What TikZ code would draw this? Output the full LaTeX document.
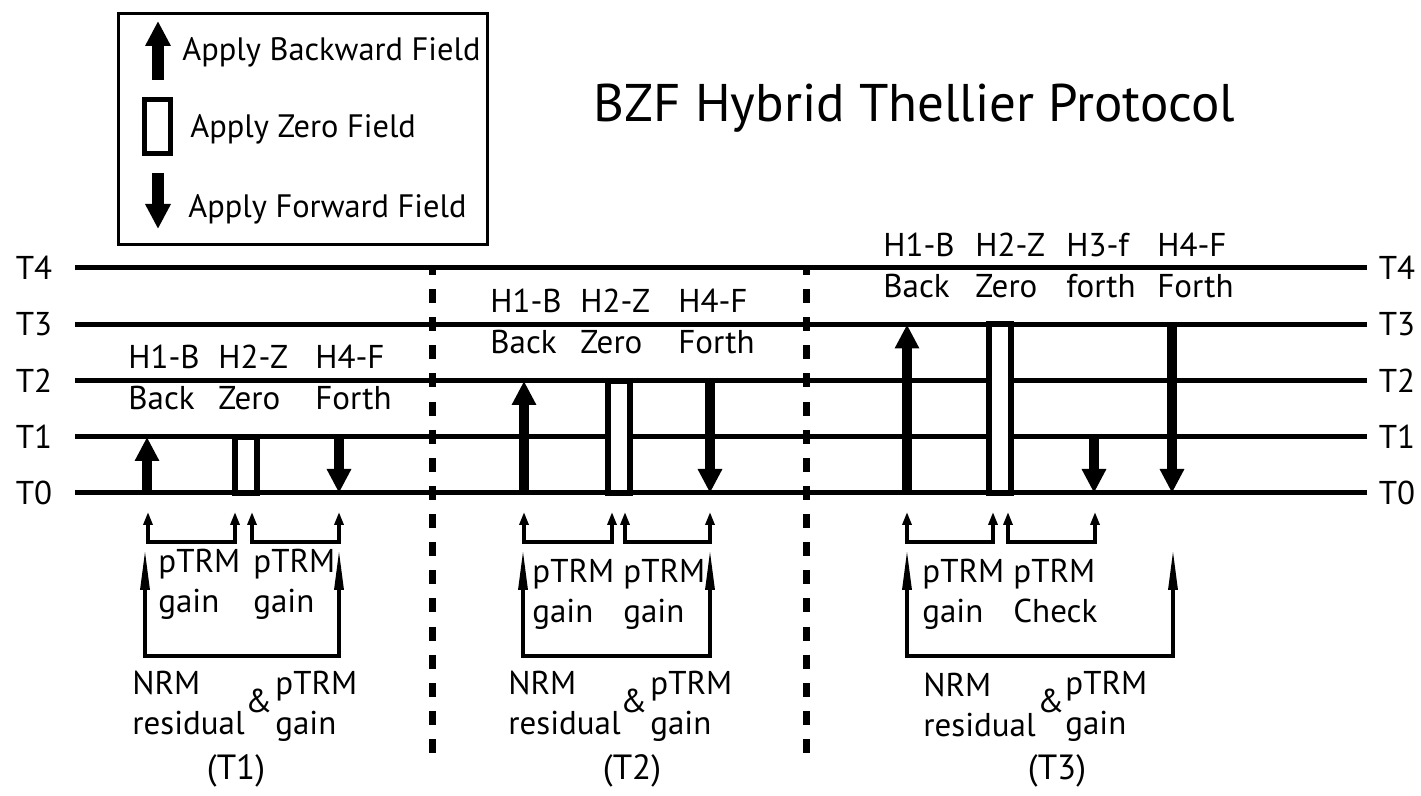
\documentclass[tikz,border=0pt]{standalone}
\usepackage{fontspec}
\setmainfont{PT Sans}
\usetikzlibrary{arrows.meta}
\tikzset{
  hline/.style={line width=2.5pt},
  vdash/.style={line width=3.5pt, dash pattern=on 7pt off 7.06pt, dash phase=3.5pt},
  fieldarrow/.style={line width=5pt, -{Triangle[width=11.5pt,length=12pt]}},
  legarrow/.style={line width=6pt, -{Triangle[width=12pt,length=12.5pt]}},
  zerobox/.style={line width=3pt, fill=white},
  bracket/.style={line width=1.6pt, {Triangle[width=4.5pt,length=6.5pt]}-{Triangle[width=4.5pt,length=6.5pt]}},
  bigbracket/.style={line width=1.6pt, {Triangle[width=4.5pt,length=20pt]}-{Triangle[width=4.5pt,length=20pt]}},
  lbl/.style={inner sep=0pt, anchor=base west, font=\fontsize{16.5}{18}\selectfont},
  clbl/.style={inner sep=0pt, anchor=base, font=\fontsize{17.5}{19}\selectfont},
  tlbl/.style={inner sep=0pt, font=\fontsize{16.5}{18}\selectfont},
  leglbl/.style={inner sep=0pt, anchor=base west, font=\fontsize{16.2}{18}\selectfont},
}
\begin{document}
\begin{tikzpicture}[x=0.5pt,y=-0.5pt]
\useasboundingbox (0,0) rectangle (1421,796);
% legend
\node[draw, line width=1.5pt, minimum width=184.5pt, minimum height=115.5pt, inner sep=0pt, anchor=north west] (legend) at (117,12) {};
\coordinate (lgu1) at (158,80); \coordinate (lgu2) at (158,21);
\draw[legarrow] (lgu1) -- (lgu2);
\coordinate (lgz1) at (144.5,99.5); \coordinate (lgz2) at (170.5,153.5);
\draw[line width=2.5pt] (lgz1) rectangle (lgz2);
\coordinate (lgd1) at (158,173); \coordinate (lgd2) at (158,229);
\draw[legarrow] (lgd1) -- (lgd2);
\node[leglbl] (legB) at (182,61) {Apply Backward Field};
\node[leglbl] (legZ) at (190,138) {Apply Zero Field};
\node[leglbl] (legF) at (188,218) {Apply Forward Field};
% title
\node[inner sep=0pt, anchor=base, font=\fontsize{26.5}{30}\selectfont] (title) at (914.5,122) {BZF Hybrid Thellier Protocol};
% temperature lines
\foreach \n/\y in {0/493,1/437,2/381,3/324.5,4/268} {
  \coordinate (L\n) at (75,\y);
  \coordinate (R\n) at (1367,\y);
  \node[tlbl] (lT\n) at (34,\y) {T\n};
  \node[tlbl] (rT\n) at (1397,\y) {T\n};
  \draw[hline] (L\n) -- (R\n);
}
% dashed separators
\coordinate (d1t) at (432,268); \coordinate (d1b) at (432,759);
\coordinate (d2t) at (806,268); \coordinate (d2b) at (806,759);
\draw[vdash] (d1t) -- (d1b);
\draw[vdash] (d2t) -- (d2b);
% ---------- block 1 ----------
\coordinate (a1s) at (147,493); \coordinate (a1e) at (147,437);
\draw[fieldarrow] (a1s) -- (a1e);
\coordinate (z1a) at (235,493); \coordinate (z1b) at (257,437);
\draw[zerobox] (z1a) rectangle (z1b);
\coordinate (f1s) at (339,437); \coordinate (f1e) at (339,493);
\draw[fieldarrow] (f1s) -- (f1e);
\node[lbl] (b1h1) at (128,369) {H1-B};
\node[lbl] (b1h1t) at (128,410) {Back};
\node[lbl] (b1h2) at (218,369) {H2-Z};
\node[lbl] (b1h2t) at (218,410) {Zero};
\node[lbl] (b1h4) at (315,369) {H4-F};
\node[lbl] (b1h4t) at (315,410) {Forth};
\coordinate (s1a) at (148,512); \coordinate (s1b) at (235,512);
\coordinate (s1c) at (252,512); \coordinate (s1d) at (339,512);
\draw[bracket] (s1a) -- ++(0,30) -| (s1b);
\draw[bracket] (s1c) -- ++(0,30) -| (s1d);
\coordinate (g1l) at (145,550); \coordinate (g1r) at (339,550);
\draw[bigbracket] (g1l) -- ++(0,106) -| (g1r);
\node[lbl] (b1p1) at (158,573) {pTRM};
\node[lbl] (b1p1g) at (158,613) {gain};
\node[lbl] (b1p2) at (253,573) {pTRM};
\node[lbl] (b1p2g) at (253,613) {gain};
\node[lbl] (b1n) at (132,695) {NRM};
\node[lbl] (b1r) at (132,735) {residual};
\node[lbl] (b1amp) at (245,713) {\&};
\node[lbl] (b1q) at (275,695) {pTRM};
\node[lbl] (b1qg) at (275,735) {gain};
\node[clbl] (b1T) at (236,780) {(T1)};
% ---------- block 2 ----------
\coordinate (a2s) at (524,493); \coordinate (a2e) at (524,381);
\draw[fieldarrow] (a2s) -- (a2e);
\coordinate (z2a) at (608,493); \coordinate (z2b) at (630,381);
\draw[zerobox] (z2a) rectangle (z2b);
\coordinate (f2s) at (710,381); \coordinate (f2e) at (710,493);
\draw[fieldarrow] (f2s) -- (f2e);
\node[lbl] (b2h1) at (490,313) {H1-B};
\node[lbl] (b2h1t) at (490,354) {Back};
\node[lbl] (b2h2) at (580,313) {H2-Z};
\node[lbl] (b2h2t) at (580,354) {Zero};
\node[lbl] (b2h4) at (678,313) {H4-F};
\node[lbl] (b2h4t) at (678,354) {Forth};
\coordinate (s2a) at (524,512); \coordinate (s2b) at (612,512);
\coordinate (s2c) at (625,512); \coordinate (s2d) at (710,512);
\draw[bracket] (s2a) -- ++(0,30) -| (s2b);
\draw[bracket] (s2c) -- ++(0,30) -| (s2d);
\coordinate (g2l) at (523,550); \coordinate (g2r) at (710,550);
\draw[bigbracket] (g2l) -- ++(0,106) -| (g2r);
\node[lbl] (b2p1) at (532,583) {pTRM};
\node[lbl] (b2p1g) at (532,623) {gain};
\node[lbl] (b2p2) at (623,583) {pTRM};
\node[lbl] (b2p2g) at (623,623) {gain};
\node[lbl] (b2n) at (508,695) {NRM};
\node[lbl] (b2r) at (508,735) {residual};
\node[lbl] (b2amp) at (620,713) {\&};
\node[lbl] (b2q) at (650,695) {pTRM};
\node[lbl] (b2qg) at (650,735) {gain};
\node[clbl] (b2T) at (632,780) {(T2)};
% ---------- block 3 ----------
\coordinate (a3s) at (907,493); \coordinate (a3e) at (907,324.5);
\draw[fieldarrow] (a3s) -- (a3e);
\coordinate (z3a) at (989,493); \coordinate (z3b) at (1011,324.5);
\draw[zerobox] (z3a) rectangle (z3b);
\coordinate (f3s) at (1094,437); \coordinate (f3e) at (1094,493);
\draw[fieldarrow] (f3s) -- (f3e);
\coordinate (f4s) at (1172,324.5); \coordinate (f4e) at (1172,493);
\draw[fieldarrow] (f4s) -- (f4e);
\node[lbl] (b3h1) at (883,257) {H1-B};
\node[lbl] (b3h1t) at (883,298) {Back};
\node[lbl] (b3h2) at (975,257) {H2-Z};
\node[lbl] (b3h2t) at (975,298) {Zero};
\node[lbl] (b3h3) at (1066,257) {H3-f};
\node[lbl] (b3h3t) at (1066,298) {forth};
\node[lbl] (b3h4) at (1157,257) {H4-F};
\node[lbl] (b3h4t) at (1157,298) {Forth};
\coordinate (s3a) at (907,512); \coordinate (s3b) at (993,512);
\coordinate (s3c) at (1008,512); \coordinate (s3d) at (1095,512);
\draw[bracket] (s3a) -- ++(0,30) -| (s3b);
\draw[bracket] (s3c) -- ++(0,30) -| (s3d);
\coordinate (g3l) at (907,550); \coordinate (g3r) at (1173,550);
\draw[bigbracket] (g3l) -- ++(0,106) -| (g3r);
\node[lbl] (b3p1) at (922,583) {pTRM};
\node[lbl] (b3p1g) at (922,623) {gain};
\node[lbl] (b3p2) at (1013,583) {pTRM};
\node[lbl] (b3p2g) at (1013,623) {Check};
\node[lbl] (b3n) at (923,697) {NRM};
\node[lbl] (b3r) at (923,737) {residual};
\node[lbl] (b3amp) at (1037,713) {\&};
\node[lbl] (b3q) at (1065,695) {pTRM};
\node[lbl] (b3qg) at (1065,735) {gain};
\node[clbl] (b3T) at (1057,780) {(T3)};
\end{tikzpicture}
\end{document}
